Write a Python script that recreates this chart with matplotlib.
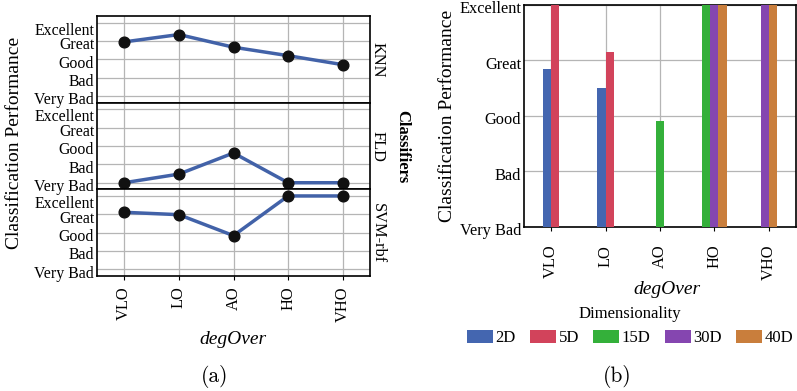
import numpy as np
import matplotlib
matplotlib.use("Agg")
import matplotlib.pyplot as plt
from matplotlib.patches import Patch
from matplotlib.transforms import ScaledTranslation

plt.rcParams['font.family'] = ['Liberation Serif', 'DejaVu Serif']

deg_levels = ['VLO', 'LO', 'AO', 'HO', 'VHO']
perf_levels = ['Very Bad', 'Bad', 'Good', 'Great', 'Excellent']
classifiers = ['KNN', 'FLD', 'SVM-rbf']

# panel (a): score per classifier, 1 = Very Bad ... 5 = Excellent
knn_perf = [3.95, 4.35, 3.66, 3.20, 2.71]
fld_perf = [1.00, 1.47, 2.62, 1.00, 1.00]
svm_perf = [4.11, 3.98, 2.84, 5.00, 5.00]

# panel (b): score per dimensionality, nan = no bar
dims = ['2D', '5D', '15D', '30D', '40D']
dim_colors = ['#4466b0', '#d2435b', '#34b03a', '#8546b0', '#c97e3c']
perf_2d = [3.84, 3.50, np.nan, np.nan, np.nan]
perf_5d = [5.00, 4.15, np.nan, np.nan, np.nan]
perf_15d = [np.nan, np.nan, 2.90, 5.00, np.nan]
perf_30d = [np.nan, np.nan, np.nan, 5.00, 5.00]
perf_40d = [np.nan, np.nan, np.nan, 5.00, 5.00]

W_PX, H_PX = 797, 391
fig = plt.figure(figsize=(W_PX / 100, H_PX / 100), dpi=100)

grid_col = '#b5b5b5'
tick_fs = 11.4
x = np.arange(1, len(deg_levels) + 1)


def nudge_ylabels(ax, dy=1.6, top_extra=0.0):
    # labels sit a little below their gridline in the original
    labs = ax.get_yticklabels()
    for k, lab in enumerate(labs):
        shift = dy + (top_extra if k == len(labs) - 1 else 0)
        off = ScaledTranslation(0, -shift / 72, fig.dpi_scale_trans)
        lab.set_transform(lab.get_transform() + off)


# ---- (a) faceted line chart ----
facet_h = 86.67
left_px, right_px = 97, 370
for i, (name, vals) in enumerate(zip(classifiers, [knn_perf, fld_perf, svm_perf])):
    top_px = 16 + i * facet_h
    ax = fig.add_axes([left_px / W_PX, 1 - (top_px + facet_h) / H_PX,
                       (right_px - left_px) / W_PX, facet_h / H_PX])
    ax.plot(x, vals, color='#4262a8', lw=2.5, zorder=3)
    ax.plot(x, vals, 'o', color='#111111', ms=7.7, zorder=4, clip_on=False)
    ax.set_xlim(0.5, 5.5)
    ax.set_ylim(0.64, 5.36)
    ax.set_yticks(range(1, 6))
    ax.set_yticklabels(perf_levels)
    ax.set_xticks(x)
    ax.grid(color=grid_col, lw=0.9)
    ax.set_axisbelow(True)
    ax.tick_params(axis='y', length=0, pad=2, labelsize=tick_fs)
    if i < 2:
        ax.tick_params(axis='x', length=0, labelbottom=False)
    else:
        ax.set_xticklabels(deg_levels, rotation=90)
        ax.tick_params(axis='x', length=3, pad=4.5, labelsize=11.8)
    nudge_ylabels(ax, 1.6, 2.8)
    for sp in ax.spines.values():
        sp.set_linewidth(1.2)
    # facet strip label
    fig.text(378 / W_PX, 1 - (top_px + facet_h / 2) / H_PX, name, rotation=270,
             ha='center', va='center', fontsize=11.8)

fig.text(402 / W_PX, 1 - 147 / H_PX, 'Classifiers', rotation=270, ha='center',
         va='center', fontsize=12, fontweight='bold')
fig.text(15 / W_PX, 1 - 142.5 / H_PX, 'Classification Performance', rotation=90,
         ha='center', va='center', fontsize=14)
fig.text(233 / W_PX, 1 - 340 / H_PX, 'degOver', style='italic', ha='center',
         va='center', fontsize=14)
fig.text(215 / W_PX, 1 - 377 / H_PX, '(a)', family='cmr10', ha='center',
         va='center', fontsize=15.5)

# ---- (b) dodged bar chart ----
bx = fig.add_axes([524 / W_PX, 1 - 226.7 / H_PX, 272 / W_PX, 222 / H_PX])
series = [perf_2d, perf_5d, perf_15d, perf_30d, perf_40d]
bar_w = 0.15
for j in range(len(deg_levels)):
    present = [k for k in range(len(dims)) if not np.isnan(series[k][j])]
    n = len(present)
    for pos, k in enumerate(present):
        xc = x[j] + (pos - (n - 1) / 2) * bar_w
        bx.bar(xc, series[k][j] - 1, bottom=1, width=bar_w,
               color=dim_colors[k], zorder=3)
bx.set_xlim(0.5, 5.5)
bx.set_ylim(1, 5)
bx.set_yticks(range(1, 6))
bx.set_yticklabels(perf_levels)
bx.set_xticks(x)
bx.set_xticklabels(deg_levels, rotation=90)
bx.grid(color=grid_col, lw=0.9)
bx.set_axisbelow(True)
bx.tick_params(axis='y', length=0, pad=2, labelsize=11.8)
bx.tick_params(axis='x', length=3, pad=10, labelsize=11.8)
nudge_ylabels(bx, 1.8)
for sp in bx.spines.values():
    sp.set_linewidth(1.2)

fig.text(447.5 / W_PX, 1 - 116 / H_PX, 'Classification Performance', rotation=90,
         ha='center', va='center', fontsize=14)
fig.text(667 / W_PX, 1 - 290 / H_PX, 'degOver', style='italic', ha='center',
         va='center', fontsize=14)

handles = [Patch(facecolor=c, edgecolor='none', label=d) for d, c in zip(dims, dim_colors)]
fig.legend(handles=handles, loc='center', bbox_to_anchor=(630 / W_PX, 1 - 326 / H_PX),
           ncol=5, title='Dimensionality', title_fontsize=12, fontsize=12,
           frameon=False, handlelength=1.56, handleheight=0.84, handletextpad=0.15,
           columnspacing=0.85, borderpad=0, borderaxespad=0)
fig.text(617 / W_PX, 1 - 376 / H_PX, '(b)', family='cmr10', ha='center',
         va='center', fontsize=15.5)

fig.savefig('out.png', dpi=100)
